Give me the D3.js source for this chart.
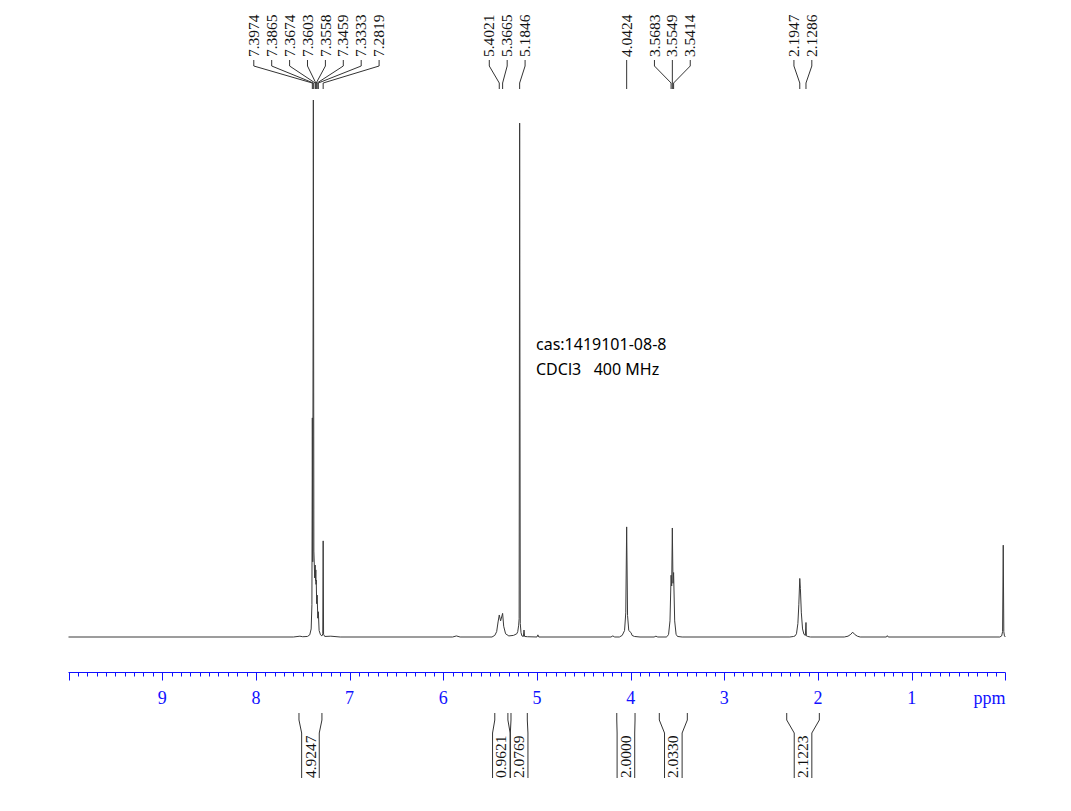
<!DOCTYPE html>
<html>
<head>
<meta charset="utf-8">
<script src="https://cdn.jsdelivr.net/npm/d3@7/dist/d3.min.js"></script>
<style>
  html, body { margin: 0; padding: 0; background: #fff; }
  svg { display: block; }
  .anno { white-space: pre; }
</style>
</head>
<body>
<svg id="chart" width="1071" height="811"></svg>
<script>
// ---------------- DATA ----------------
// spectrum vertices (ppm, relative intensity, tallest = 1000)
const specPpm = [
  10.0, 7.60, 7.53, 7.50, 7.45, 7.425, 7.410, 7.402, 7.3974, 7.393, 7.3865, 7.381, 7.372, 7.3674, 7.363,
  7.3603, 7.358, 7.3558, 7.351, 7.3459, 7.339, 7.3333, 7.325, 7.31, 7.295, 7.286, 7.2819, 7.2775, 7.265,
  7.20, 7.10, 5.90, 5.86, 5.82, 5.48, 5.45, 5.43, 5.415, 5.4021, 5.388, 5.3665, 5.355, 5.335, 5.30, 5.25,
  5.215, 5.205, 5.195, 5.19, 5.1846, 5.178, 5.17, 5.16, 5.145, 5.138, 5.132, 5.10, 5.00, 4.99, 4.98,
  4.21, 4.19, 4.17, 4.12, 4.09, 4.065, 4.052, 4.0424, 4.033, 4.02, 3.995, 3.985, 3.96, 3.90, 3.75, 3.73, 3.71,
  3.62, 3.61, 3.595, 3.58, 3.5683, 3.562, 3.5549, 3.548, 3.5414, 3.53, 3.515, 3.50, 3.45,
  2.30, 2.26, 2.245, 2.23, 2.215, 2.205, 2.1947, 2.188, 2.178, 2.165, 2.150, 2.135, 2.1286, 2.124, 2.11, 2.08,
  1.72, 1.68, 1.65, 1.63, 1.61, 1.58, 1.55, 1.27, 1.26, 1.25, 0.06, 0.04, 0.03, 0.023, 0.017, 0.01, 0.0
];
const specInt = [
  0, 0, 1.5, 0.5, 1, 4, 15, 60, 408, 140, 1000, 160, 110, 134, 105,
  125, 98, 106, 62, 78, 35, 47, 12, 4, 2, 6, 179, 5, 1,
  1.5, 0, 0, 2, 0, 0, 3, 10, 28, 41, 30, 44, 20, 6, 2, 3,
  6, 10, 22, 34, 957, 25, 8, 2, 1, 13, 1, 0.5, 0, 4, 0,
  0, 2, 0, 0, 3, 12, 45, 205, 40, 12, 8, 3, 1, 0, 0, 1.5, 0,
  0, 1, 5, 30, 115, 95, 203, 100, 120, 30, 5, 1, 0,
  0, 1, 2, 6, 25, 60, 109, 90, 45, 15, 5, 3, 27, 2, 1, 0,
  0, 1.5, 5, 9, 5, 1.5, 0, 0, 2.5, 0, 0, 2, 10, 171, 10, 2, 0
];

// peak pick labels (ppm)
const peakPpm = [7.3974, 7.3865, 7.3674, 7.3603, 7.3558, 7.3459, 7.3333, 7.2819,
                 5.4021, 5.3665, 5.1846, 4.0424, 3.5683, 3.5549, 3.5414, 2.1947, 2.1286];

// integrals
const integralFrom   = [7.54, 5.45, 5.277, 4.148, 3.694, 2.334];
const integralTo     = [7.295, 5.31, 5.103, 3.953, 3.395, 1.986];
const integralValues = ["4.9247", "0.9621", "2.0769", "2.0000", "2.0330", "2.1223"];

// axis ticks
const tickLabels = [9, 8, 7, 6, 5, 4, 3, 2, 1];
const minorTicks = d3.range(0, 101).map(i => i / 10);

const annotationLines = ["cas:1419101-08-8", "CDCl3   400 MHz"];

// ---------------- DRAW ----------------
const svg = d3.select("#chart");
const x = d3.scaleLinear().domain([10, 0]).range([68.5, 1005.4]);
const y = d3.scaleLinear().domain([0, 1000]).range([637, 100]);

const axisBlue = "#1010ff";
const serif = "'Liberation Serif', 'Times New Roman', serif";

// spectrum
const specData = specPpm.map((p, i) => [p, specInt[i]]);
svg.append("path")
  .datum(specData)
  .attr("fill", "none")
  .attr("stroke", "#3a3a3a")
  .attr("stroke-width", 1)
  .attr("stroke-linejoin", "round")
  .attr("d", d3.line().x(d => x(d[0])).y(d => y(d[1])));

// axis
const axisY = 672.5;
const axisG = svg.append("g").attr("transform", `translate(0,${axisY})`);
axisG.append("line")
  .attr("x1", x(10)).attr("x2", x(0))
  .attr("stroke", axisBlue).attr("stroke-width", 1);
axisG.selectAll("line.tick").data(minorTicks).join("line")
  .attr("class", "tick")
  .attr("x1", d => Math.round(x(d)) + 0.5).attr("x2", d => Math.round(x(d)) + 0.5)
  .attr("y1", 0)
  .attr("y2", d => (Math.abs(d - Math.round(d)) < 1e-6) ? 8 : 4)
  .attr("stroke", axisBlue).attr("stroke-width", 1);
axisG.selectAll("text.lbl").data(tickLabels).join("text")
  .attr("class", "lbl")
  .attr("x", d => x(d)).attr("y", 31.5)
  .attr("text-anchor", "middle")
  .attr("font-family", serif).attr("font-size", 18)
  .attr("fill", axisBlue)
  .text(d => d);
axisG.append("text")
  .attr("x", x(0)).attr("y", 31.5)
  .attr("text-anchor", "end")
  .attr("font-family", serif).attr("font-size", 18)
  .attr("fill", axisBlue)
  .text("ppm");

// peak labels: spread labels so they do not overlap
function spread(xs, gap) {
  let clusters = xs.map((v, i) => ({ idx: [i], sum: v }));
  const start = c => c.sum / c.idx.length - (c.idx.length - 1) * gap / 2;
  let merged = true;
  while (merged) {
    merged = false;
    for (let i = 0; i < clusters.length - 1; i++) {
      const a = clusters[i], b = clusters[i + 1];
      const aEnd = start(a) + (a.idx.length - 1) * gap;
      if (start(b) - aEnd < gap) {
        clusters.splice(i, 2, { idx: a.idx.concat(b.idx), sum: a.sum + b.sum });
        merged = true;
        break;
      }
    }
  }
  const out = new Array(xs.length);
  clusters.forEach(c => { const s = start(c); c.idx.forEach((k, j) => out[k] = s + j * gap); });
  return out;
}
const peakX = peakPpm.map(p => x(p));
const labelX = spread(peakX, 17.9);

const lblG = svg.append("g");
peakPpm.forEach((p, i) => {
  const lx = labelX[i], px = peakX[i];
  lblG.append("path")
    .attr("d", `M${lx},60 L${lx},66 L${px},83 L${px},89`)
    .attr("fill", "none").attr("stroke", "#333").attr("stroke-width", 1);
  lblG.append("text")
    .attr("transform", `translate(${lx},57) rotate(-90)`)
    .attr("dy", "0.33em")
    .attr("font-family", serif).attr("font-size", 15.5)
    .attr("fill", "#111")
    .text(d3.format(".4f")(p));
});

// integrals
const intG = svg.append("g");
integralValues.forEach((v, i) => {
  const x0 = x(integralFrom[i]), x1 = x(integralTo[i]);
  const cx = (x0 + x1) / 2;
  const i0 = cx - 8.8, i1 = cx + 8.8;
  intG.append("path")
    .attr("d", `M${x0},713 L${x0},720 L${i0},733 L${i0},778 M${x1},713 L${x1},720 L${i1},733 L${i1},778`)
    .attr("fill", "none").attr("stroke", "#333").attr("stroke-width", 1);
  intG.append("text")
    .attr("transform", `translate(${cx},778) rotate(-90)`)
    .attr("dy", "0.33em")
    .attr("font-family", serif).attr("font-size", 15.5)
    .attr("fill", "#111")
    .text(v);
});

// annotation
svg.append("g").selectAll("text").data(annotationLines).join("text")
  .attr("class", "anno")
  .attr("x", 536).attr("y", (d, i) => 350 + i * 25)
  .attr("font-family", "'Noto Sans', 'Open Sans', sans-serif")
  .attr("font-size", 16)
  .attr("fill", "#000")
  .text(d => d);
</script>
</body>
</html>
